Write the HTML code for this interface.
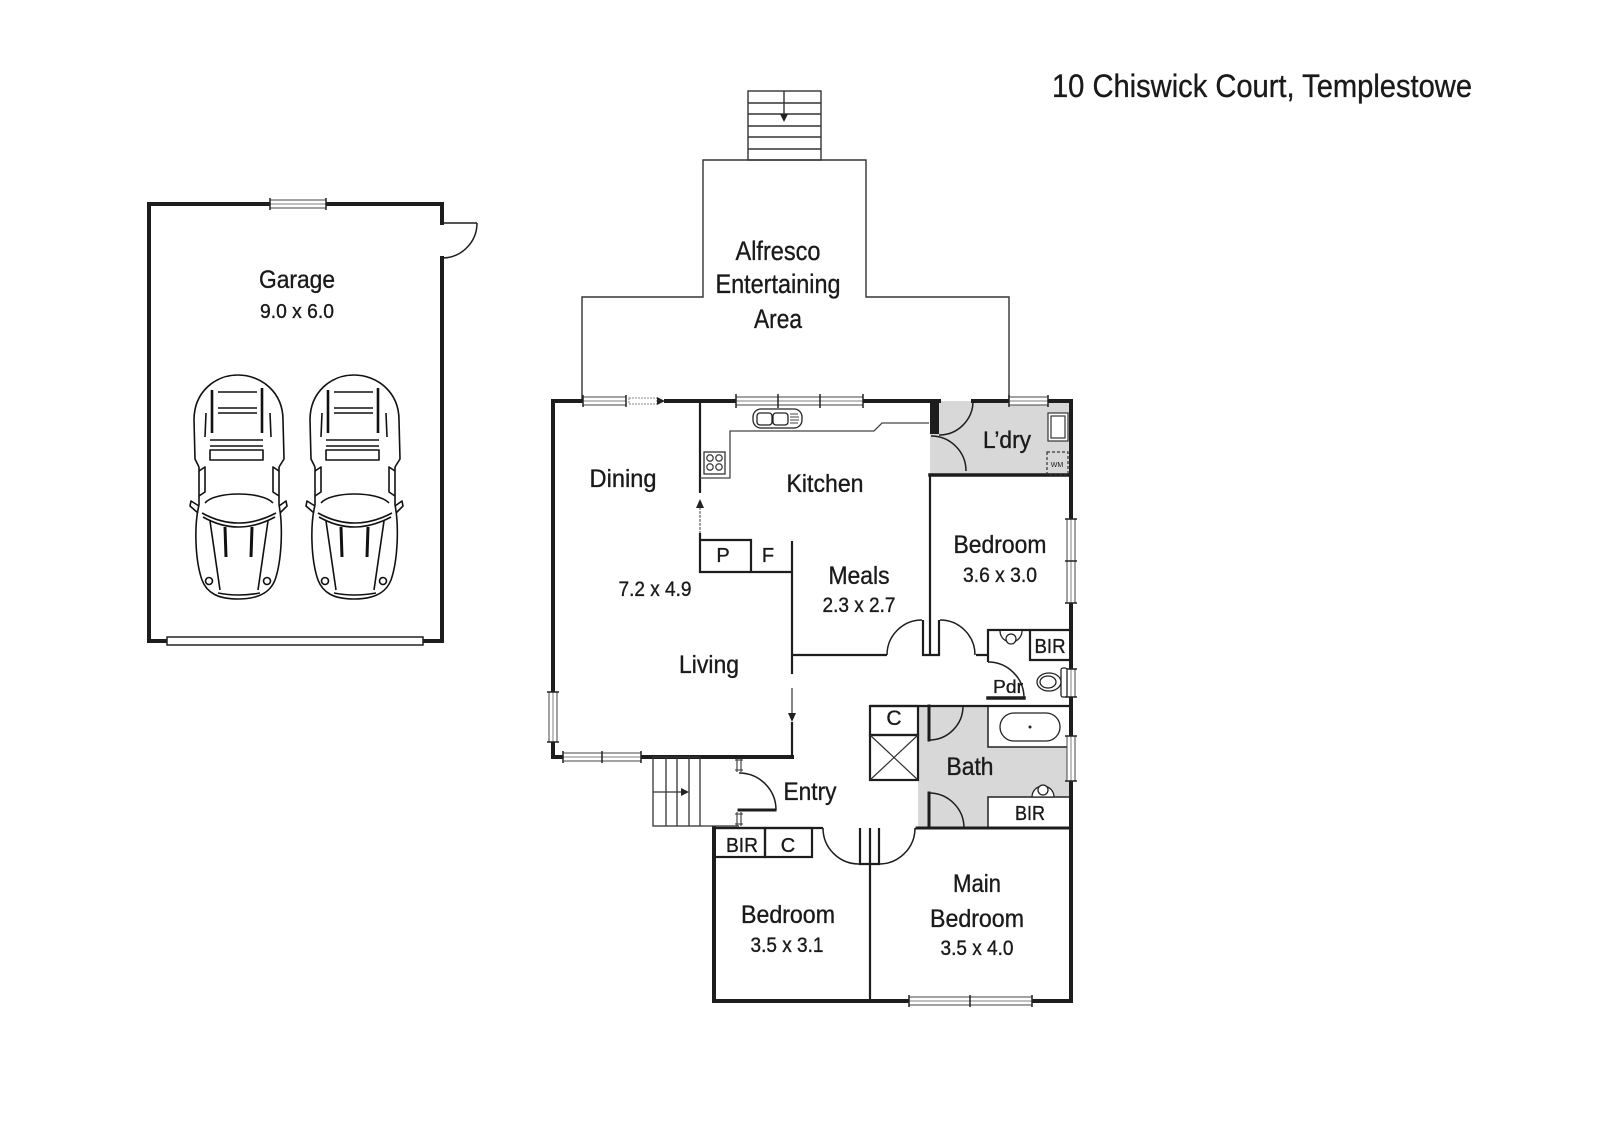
<!DOCTYPE html>
<html><head><meta charset="utf-8"><style>
html,body{margin:0;padding:0;background:#fff;}
svg{display:block;}
text{font-family:"Liberation Sans",Arial,sans-serif;fill:#1a1a1a;stroke:#1a1a1a;stroke-width:0.35;}
</style></head><body>
<svg width="1600" height="1131" viewBox="0 0 1600 1131" xmlns="http://www.w3.org/2000/svg">
<defs>
<g id="car" fill="none" stroke="#111" stroke-width="1.6" stroke-linejoin="round">
  <path d="M9,92 L5,84 L4,45 C4,17 25,0 48,0 C71,0 93,17 93,45 L94,84 L89,92"/>
  <path d="M9,92 L9,130 M89,92 L89,130"/>
  <path d="M9,130 C4,150 5,185 12,205 C17,218 28,224 48,224 C68,224 80,218 85,205 C92,185 93,150 89,130"/>
  <path d="M9,131 L1,126 L0,131 L8,138 M89,131 L96,126 L97,131 L90,138"/>
  <path d="M15,128 C25,116 72,116 83,128"/>
  <path d="M12,138 Q48,158 86,138 M13,142 Q48,162 85,142"/>
  <path d="M20,146 L30,215 M78,146 L68,215"/>
  <path d="M35,152 L36,182 M62,152 L61,182" stroke-width="3"/>
  <circle cx="19" cy="206" r="3.5"/><circle cx="77" cy="206" r="3.5"/>
  <path d="M28,218 Q48,222 70,218"/>
  <path d="M28,17 L67,17 M28,33 L67,33 M28,38 L67,38"/>
  <path d="M22,15 L22,58 M72,13 L72,58" stroke-width="2.6"/>
  <path d="M16,38 L15,62 M80,38 L81,62"/>
  <path d="M20,65 L73,65 M20,71 L73,71"/>
  <rect x="20" y="75" width="53" height="10"/>
  <path d="M9,96 L15,92 L15,117 L9,121 M89,96 L83,92 L83,117 L89,121"/>
</g>
</defs>
<rect width="1600" height="1131" fill="#fff"/>

<!-- Title -->
<text x="1052" y="97" font-size="32" textLength="420" lengthAdjust="spacingAndGlyphs">10 Chiswick Court, Templestowe</text>

<!-- gray fills -->
<rect x="930" y="401" width="141" height="75" fill="#d8d8d8"/>
<rect x="918" y="706" width="153" height="122" fill="#d8d8d8"/>
<rect x="988" y="706" width="83" height="41" fill="#fff" stroke="#222" stroke-width="1.5"/>
<rect x="988" y="797" width="83" height="31" fill="#fff" stroke="#222" stroke-width="1.5"/>

<!-- Alfresco outline -->
<path d="M582,401 L582,297 L703,297 L703,160 L866,160 L866,297 L1009,297 L1009,401" fill="none" stroke="#333" stroke-width="1.4"/>
<!-- top stairs -->
<g fill="none" stroke="#333" stroke-width="1.4">
<rect x="748" y="91" width="73" height="69"/>
<path d="M748,103 H821 M748,114 H821 M748,126 H821 M748,137 H821 M748,149 H821 M784,91 V116"/>
</g>
<polygon points="780,114 788,114 784,122" fill="#222"/>

<!-- Outer walls -->
<g fill="none" stroke="#1d1d1d" stroke-width="4" stroke-linecap="square" stroke-linejoin="miter">
<path d="M270,204 H149 V641 H167 M423,641 H442 V258 M442,223 V204 H326"/>
<path d="M553,401 H583 M666,401 H736 M863,401 H939 M973,401 H1009 M1048,401 H1071"/>
<path d="M553,401 V692 M553,742 V757 H563 M641,757 H792"/>
<path d="M1071,401 V519 M1071,603 V669 M1071,697 V736 M1071,781 V1001 H1032 M909,1001 H714 V828"/>
</g>
<g fill="none" stroke="#1d1d1d" stroke-linecap="square">
<path d="M930,475 H1071" stroke-width="3.5"/>
<path d="M917,828 H1071" stroke-width="3"/>
<path d="M988,698 H1024" stroke-width="3.5"/>
<path d="M929,706 V740 M929,793 V828" stroke-width="3"/>
<path d="M739,810 H775" stroke-width="3"/>
</g>
<rect x="930" y="401" width="9" height="33" fill="#1d1d1d"/>

<!-- Interior walls -->
<g fill="none" stroke="#1d1d1d" stroke-width="2.2">
<path d="M700,401 V493"/>
<path d="M700,533 V572 H792 M700,540 H751 V572"/>
<path d="M792,541 V674 M792,722 V757"/>
<path d="M792,655 H887"/>
<path d="M930,476 V620"/>
<path d="M923,620 V655 H939 V620 M930,620 V655"/>
<path d="M976,655 H988 V630 H1071 M988,630 V662"/>
<path d="M1030,630 V660 H1071"/>
<path d="M870,706 H1071"/>
<rect x="870" y="706" width="48" height="29"/>
<rect x="870" y="735" width="48" height="45"/>
<path d="M714,828 H823"/>
<rect x="714" y="828" width="51" height="29"/>
<rect x="765" y="828" width="47" height="29"/>
<path d="M860,828 V864 H879 V828 M870,828 V1001"/>
<path d="M916,828 H929"/>
</g>
<g fill="none" stroke="#333" stroke-width="1.2">
<path d="M870,735 L918,780 M918,735 L870,780"/>
<path d="M792,688 V713"/>
<path d="M700,507 V533" stroke="#666" stroke-dasharray="3,1"/>
</g>
<polygon points="788,713 796,713 792,722" fill="#222"/>
<polygon points="696,508 704,508 700,499" fill="#222"/>

<!-- Door arcs -->
<g fill="none" stroke="#1d1d1d" stroke-width="1.5">
<path d="M442,223 H477"/>
<path d="M477,223 A35,35 0 0 1 442,258"/>
<path d="M973,401 A34,34 0 0 1 939,435"/>
<path d="M931,436 A35,35 0 0 1 966,471"/>
<path d="M887,655 A35,35 0 0 1 922,620"/>
<path d="M940,620 A35,35 0 0 1 975,655"/>
<path d="M988,662 A36,36 0 0 1 1024,698"/>
<path d="M963,706 A34,34 0 0 1 929,740"/>
<path d="M929,793 A35,35 0 0 1 964,828"/>
<path d="M823,828 A36,36 0 0 0 859,864"/>
<path d="M879,864 A36,36 0 0 0 915,828"/>
<path d="M739,773 A37,37 0 0 1 776,810"/>
</g>

<!-- entry jambs -->
<g fill="none" stroke="#333" stroke-width="1.1">
<path d="M737,758 V772 M741,758 V772 M735,760 H743 M735,770 H743"/>
<path d="M737,812 V826 M741,812 V826 M735,814 H743 M735,824 H743"/>
</g>
<!-- front stairs -->
<g fill="none" stroke="#333" stroke-width="1.3">
<rect x="653" y="757" width="47" height="69"/>
<path d="M666,757 V826 M677,757 V826 M689,757 V826 M653,792 H681 M700,826 H739"/>
</g>
<polygon points="681,788 681,796 689,792" fill="#222"/>

<!-- Windows -->
<g stroke-width="1">
<rect x="270" y="200" width="56" height="8" fill="#fff" stroke="#444"/>
<line x1="270" y1="204" x2="326" y2="204" stroke="#aaa" stroke-width="1.5"/>
<path d="M270,198 V210 M326,198 V210" stroke="#222" stroke-width="1.5"/>
<rect x="583" y="397" width="43" height="8" fill="#fff" stroke="#444"/>
<line x1="583" y1="401" x2="626" y2="401" stroke="#aaa" stroke-width="1.5"/>
<rect x="629" y="398" width="28" height="6" fill="#fff" stroke="#888" stroke-dasharray="2,1"/>
<polygon points="657,397 657,405 665,401" fill="#222"/>
<rect x="736" y="397" width="127" height="8" fill="#fff" stroke="#444"/>
<line x1="736" y1="401" x2="863" y2="401" stroke="#aaa" stroke-width="1.5"/>
<rect x="1009" y="397" width="39" height="8" fill="#fff" stroke="#444"/>
<line x1="1009" y1="401" x2="1048" y2="401" stroke="#aaa" stroke-width="1.5"/>
<path d="M583,395 V407 M626,395 V407 M736,394 V408 M778,394 V408 M820,394 V408 M863,394 V408 M1009,395 V407 M1048,395 V407" stroke="#222" stroke-width="1.5"/>
<rect x="549" y="692" width="8" height="50" fill="#fff" stroke="#444"/>
<line x1="553" y1="692" x2="553" y2="742" stroke="#aaa" stroke-width="1.5"/>
<path d="M547,692 H559 M547,742 H559" stroke="#222" stroke-width="1.5"/>
<rect x="563" y="753" width="78" height="8" fill="#fff" stroke="#444"/>
<line x1="563" y1="757" x2="641" y2="757" stroke="#aaa" stroke-width="1.5"/>
<path d="M563,751 V763 M602,751 V763 M641,751 V763" stroke="#222" stroke-width="1.5"/>
<rect x="1067" y="519" width="8" height="84" fill="#fff" stroke="#444"/>
<line x1="1071" y1="519" x2="1071" y2="603" stroke="#aaa" stroke-width="1.5"/>
<rect x="1067" y="669" width="8" height="28" fill="#fff" stroke="#444"/>
<line x1="1071" y1="669" x2="1071" y2="697" stroke="#aaa" stroke-width="1.5"/>
<rect x="1067" y="736" width="8" height="45" fill="#fff" stroke="#444"/>
<line x1="1071" y1="736" x2="1071" y2="781" stroke="#aaa" stroke-width="1.5"/>
<path d="M1065,519 H1077 M1065,561 H1077 M1065,603 H1077 M1065,669 H1077 M1065,697 H1077 M1065,736 H1077 M1065,781 H1077" stroke="#222" stroke-width="1.5"/>
<rect x="909" y="997" width="123" height="8" fill="#fff" stroke="#444"/>
<line x1="909" y1="1001" x2="1032" y2="1001" stroke="#aaa" stroke-width="1.5"/>
<path d="M909,995 V1007 M970,995 V1007 M1032,995 V1007" stroke="#222" stroke-width="1.5"/>
</g>
<rect x="167" y="637" width="256" height="8" fill="#fff" stroke="#222" stroke-width="1.5"/>

<!-- Kitchen fittings -->
<g fill="none" stroke="#444" stroke-width="1.3">
<path d="M700,478 H730 V431 H874 L882,423 H929"/>
<rect x="704" y="452" width="21" height="22" stroke="#333"/>
<circle cx="710" cy="458" r="3.2"/><circle cx="719" cy="458" r="3.2"/>
<circle cx="710" cy="467" r="3.2"/><circle cx="719" cy="467" r="3.2"/>
<rect x="753" y="409" width="49" height="19" rx="8" stroke="#222"/>
<rect x="757" y="413" width="15" height="12" rx="3" stroke="#222"/>
<rect x="773" y="413" width="15" height="12" rx="3" stroke="#222"/>
<path d="M790,414 H798 M790,417 H799 M790,420 H799 M790,423 H798" stroke-width="1"/>
</g>

<!-- Laundry fittings -->
<g fill="#fff" stroke="#333" stroke-width="1.2">
<rect x="1048" y="413" width="20" height="28"/>
<rect x="1051" y="416" width="14" height="22"/>
<rect x="1047" y="452" width="21" height="23" fill="none" stroke-dasharray="3,2"/>
</g>
<text x="1057" y="467" font-size="7" text-anchor="middle" style="stroke-width:0">WM</text>

<!-- WC / bath fittings -->
<g fill="#fff" stroke="#222" stroke-width="1.3">
<path d="M1000,631 A11,11 0 0 0 1022,631"/>
<circle cx="1011" cy="639" r="5"/>
<rect x="1061" y="668" width="6" height="29" rx="2"/>
<ellipse cx="1049" cy="682" rx="12" ry="9"/>
<ellipse cx="1048" cy="682" rx="8" ry="6"/>
<rect x="1000" y="713" width="60" height="28" rx="14"/>
<path d="M1032,797 A11,11 0 0 1 1054,797 Z"/>
<circle cx="1043" cy="790" r="5"/>
</g>
<circle cx="1030" cy="727" r="1.5" fill="#222"/>

<!-- Cars -->
<use href="#car" x="190" y="375"/>
<use href="#car" x="306" y="375"/>

<!-- Labels -->
<g text-anchor="middle">
<text x="297" y="288" font-size="25" textLength="76" lengthAdjust="spacingAndGlyphs">Garage</text>
<text x="297" y="318" font-size="20" textLength="74" lengthAdjust="spacingAndGlyphs">9.0 x 6.0</text>
<text x="778" y="260" font-size="27" textLength="85" lengthAdjust="spacingAndGlyphs">Alfresco</text>
<text x="778" y="293" font-size="27" textLength="125" lengthAdjust="spacingAndGlyphs">Entertaining</text>
<text x="778" y="328" font-size="27" textLength="48" lengthAdjust="spacingAndGlyphs">Area</text>
<text x="623" y="487" font-size="25" textLength="67" lengthAdjust="spacingAndGlyphs">Dining</text>
<text x="825" y="492" font-size="25" textLength="77" lengthAdjust="spacingAndGlyphs">Kitchen</text>
<text x="1007" y="448" font-size="24" textLength="48" lengthAdjust="spacingAndGlyphs">L’dry</text>
<text x="655" y="596" font-size="21" textLength="73" lengthAdjust="spacingAndGlyphs">7.2 x 4.9</text>
<text x="723" y="562" font-size="20">P</text>
<text x="768" y="562" font-size="20">F</text>
<text x="859" y="584" font-size="25" textLength="61" lengthAdjust="spacingAndGlyphs">Meals</text>
<text x="859" y="612" font-size="21" textLength="73" lengthAdjust="spacingAndGlyphs">2.3 x 2.7</text>
<text x="1000" y="553" font-size="25" textLength="93" lengthAdjust="spacingAndGlyphs">Bedroom</text>
<text x="1000" y="582" font-size="21" textLength="74" lengthAdjust="spacingAndGlyphs">3.6 x 3.0</text>
<text x="709" y="673" font-size="25" textLength="60" lengthAdjust="spacingAndGlyphs">Living</text>
<text x="1050" y="653" font-size="20" textLength="31" lengthAdjust="spacingAndGlyphs">BIR</text>
<text x="1008" y="693" font-size="18" textLength="30" lengthAdjust="spacingAndGlyphs">Pdr</text>
<text x="894" y="725" font-size="21">C</text>
<text x="970" y="775" font-size="25" textLength="47" lengthAdjust="spacingAndGlyphs">Bath</text>
<text x="1030" y="820" font-size="20" textLength="30" lengthAdjust="spacingAndGlyphs">BIR</text>
<text x="810" y="800" font-size="25" textLength="53" lengthAdjust="spacingAndGlyphs">Entry</text>
<text x="742" y="852" font-size="20" textLength="32" lengthAdjust="spacingAndGlyphs">BIR</text>
<text x="788" y="852" font-size="20">C</text>
<text x="788" y="923" font-size="25" textLength="94" lengthAdjust="spacingAndGlyphs">Bedroom</text>
<text x="787" y="952" font-size="21" textLength="73" lengthAdjust="spacingAndGlyphs">3.5 x 3.1</text>
<text x="977" y="892" font-size="25" textLength="48" lengthAdjust="spacingAndGlyphs">Main</text>
<text x="977" y="927" font-size="25" textLength="94" lengthAdjust="spacingAndGlyphs">Bedroom</text>
<text x="977" y="955" font-size="21" textLength="73" lengthAdjust="spacingAndGlyphs">3.5 x 4.0</text>
</g>
</svg>
</body></html>
